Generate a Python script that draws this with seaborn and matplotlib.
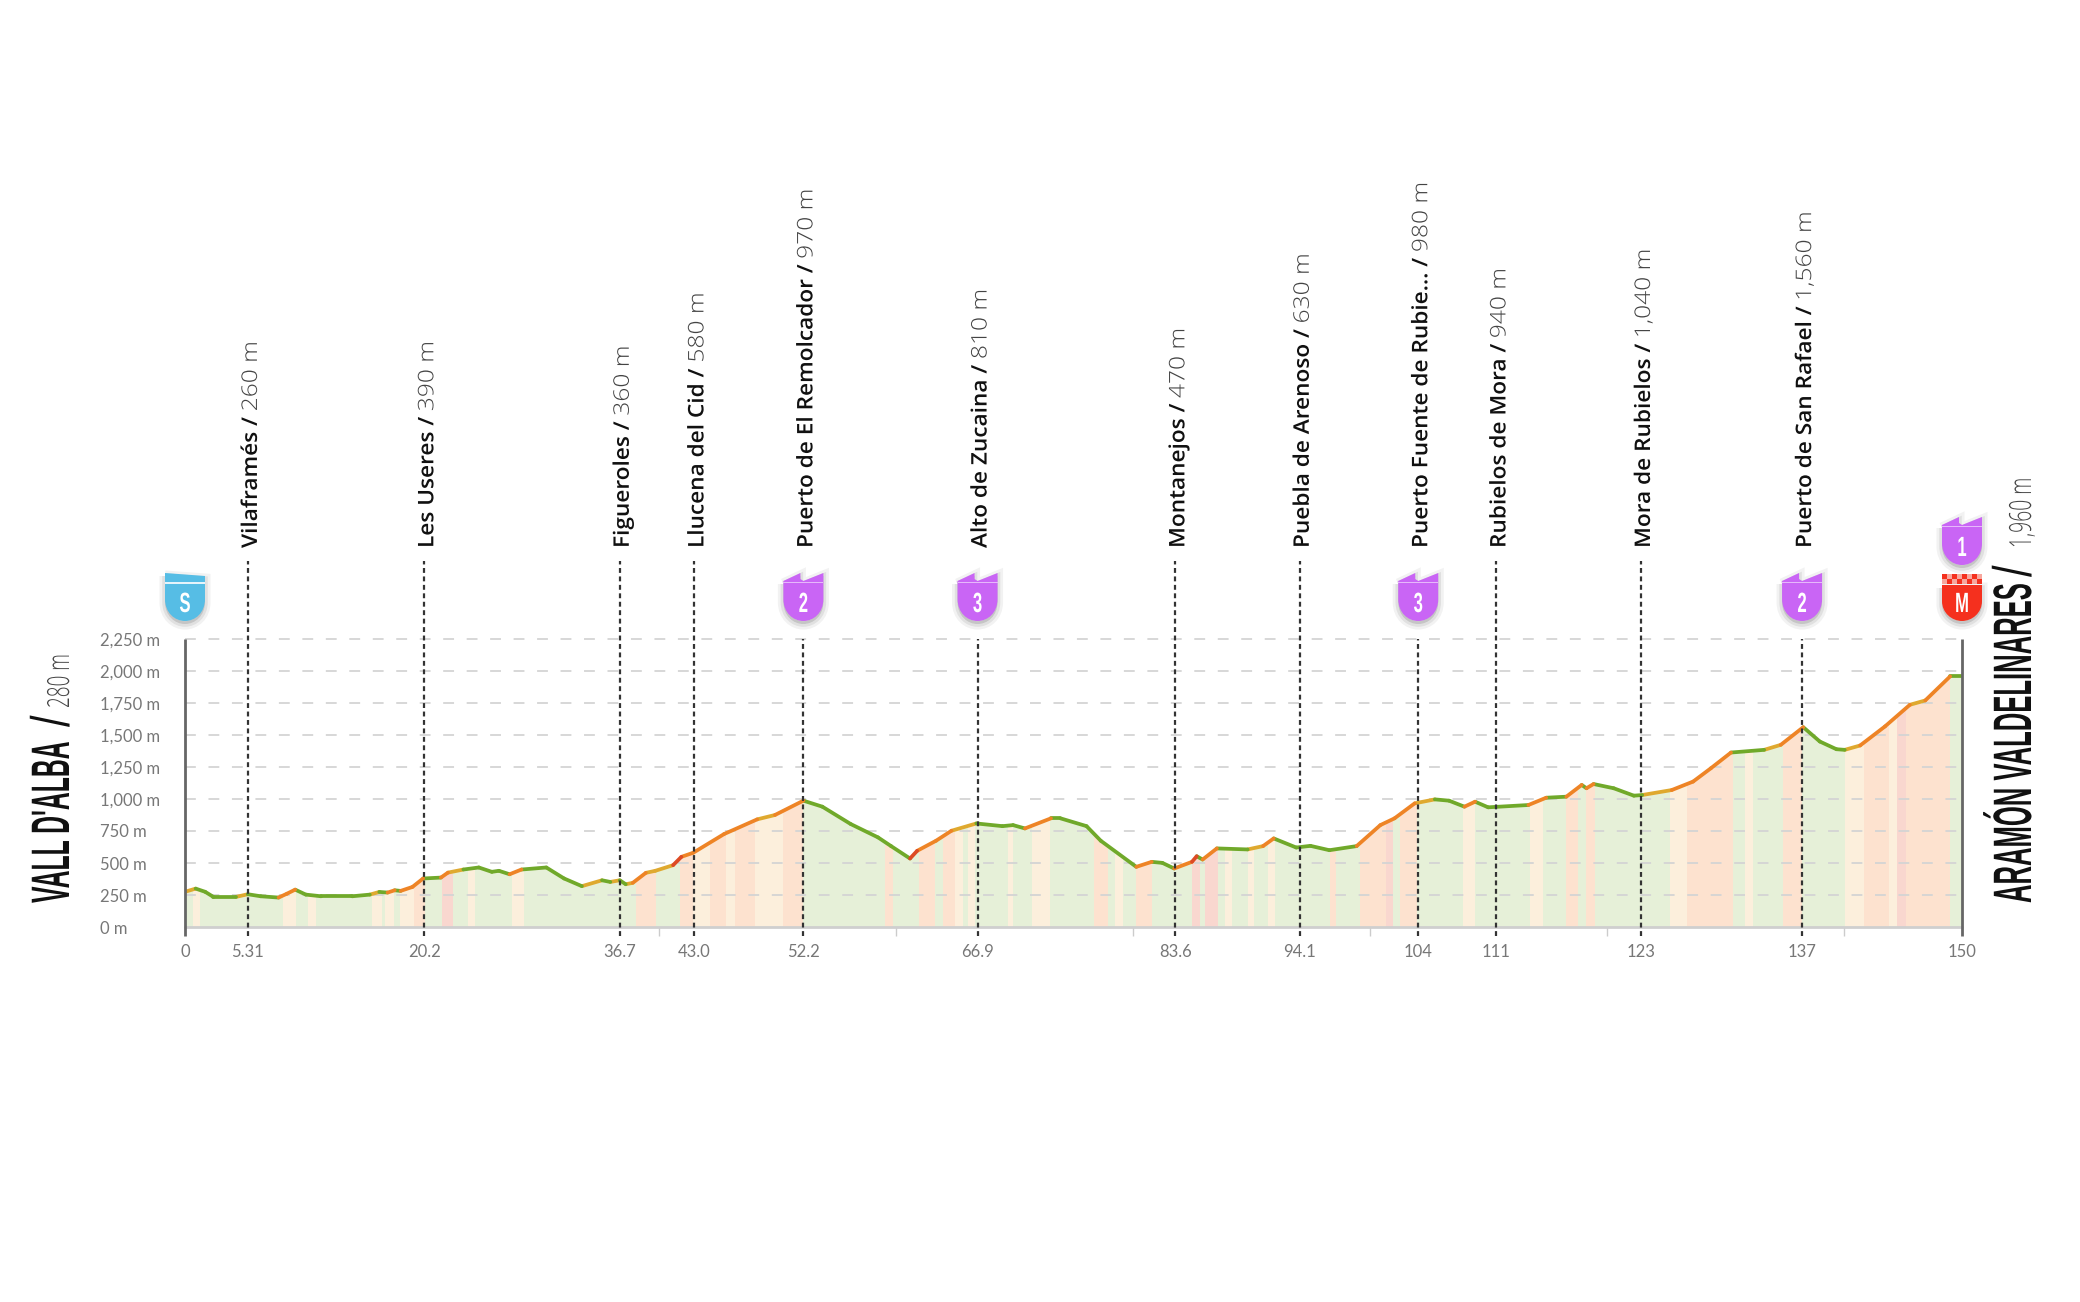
import seaborn as sns
import pandas as pd
import matplotlib
matplotlib.use("Agg")
import matplotlib.pyplot as plt
import matplotlib.patheffects as pe
from matplotlib.patches import PathPatch, Rectangle
from matplotlib.path import Path
from matplotlib.transforms import Affine2D, IdentityTransform

# elevation profile
profile_km = [0, 0.9, 1.7, 2.4, 4.3, 5.3, 6.4, 7.9, 8.6, 9.3, 10.2, 11.5, 14.1, 15.6, 16.4, 17.1, 17.7, 18.2, 19.2, 20.1,
              21.6, 22.2, 23.5, 24.8, 25.9, 26.5, 27.4, 28.4, 30.5, 32, 33.5, 35.2, 35.9, 36.7, 37.2, 37.8, 38.9, 39.7, 41.2, 41.9,
              42.9, 45.5, 48.3, 49.8, 52.2, 53.8, 56.2, 58.5, 59.6, 61.2, 61.8, 63.4, 64.7, 66.8, 69, 69.9, 70.9, 73.1, 73.9, 76.1,
              77.3, 80.3, 81.6, 82.5, 83.5, 85, 85.4, 85.9, 87.1, 89.7, 91, 91.9, 93.8, 95, 96.6, 98.9, 100.9, 102.1, 103.8, 105.5,
              106.7, 108, 108.9, 110, 113.4, 114.9, 116.6, 117.9, 118.3, 118.9, 120.6, 122.3, 123, 125.5, 127.3, 128.8, 130.5, 133.3, 134.7, 136.6,
              138, 139.4, 140.1, 141.4, 143.5, 145.6, 146.9, 149, 150]
profile_m = [275, 300, 275, 235, 235, 256, 240, 230, 260, 292, 253, 240, 240, 253, 274, 269, 287, 282, 313, 379,
             386, 425, 449, 465, 431, 439, 412, 449, 465, 379, 319, 365, 352, 365, 334, 345, 423, 439, 483, 548,
             580, 726, 841, 875, 987, 940, 804, 700, 632, 535, 595, 674, 752, 809, 788, 796, 770, 849, 849, 788,
             674, 470, 509, 501, 457, 509, 553, 527, 614, 606, 632, 692, 621, 634, 600, 632, 796, 849, 966, 997,
             987, 940, 979, 935, 953, 1010, 1018, 1110, 1084, 1117, 1084, 1026, 1031, 1070, 1136, 1240, 1363, 1384, 1423, 1561,
             1449, 1389, 1384, 1418, 1567, 1736, 1770, 1958, 1958]

# coloured bands under the profile, the rest is green
band_start = [0.7, 8.3, 10.4, 15.8, 16.9, 18.15, 19.3, 21.7, 23.9, 27.6, 38.1, 41.8, 42.9, 44.3, 45.7, 46.4, 48.1, 50.5,
              59.1, 62, 64, 65, 66.1, 69.5, 71.5, 76.7, 78.5, 80.3, 85, 86.1, 87.8, 89.75, 91.45, 96.65, 99.2, 101.4, 102.6,
              107.9, 113.5, 116.6, 118.3, 125.35, 126.75, 128.4, 129.7, 131.7, 134.9, 140.1, 141.7, 143.8, 144.5, 145.3, 146.45]
band_end = [1.27, 9.4, 11.1, 16.6, 17.6, 19.3, 20.3, 22.65, 24.5, 28.6, 39.8, 42.9, 44.3, 45.7, 46.4, 48.1, 50.5, 52.2,
            59.8, 63.3, 65, 65.7, 66.7, 69.9, 73, 77.9, 79.2, 81.6, 85.7, 87.2, 88.35, 90.2, 92, 97.2, 101.4, 102, 104,
            108.9, 114.65, 117.6, 119, 126.75, 128.4, 129.7, 130.7, 132.4, 136.5, 141.7, 143.8, 144.5, 145.3, 146.45, 149]
band_kind = ["mild", "mild", "mild", "mild", "mild", "mild", "steep", "hard", "mild", "mild", "steep", "steep", "mild", "steep", "mild", "steep", "mild", "steep",
             "steep", "steep", "steep", "mild", "mild", "mild", "mild", "steep", "mild", "steep", "hard", "hard", "mild", "mild", "mild", "steep", "steep", "hard", "steep",
             "mild", "mild", "steep", "steep", "mild", "steep", "steep", "steep", "mild", "steep", "mild", "steep", "mild", "hard", "steep", "steep"]

mark_km = [5.31, 20.2, 36.7, 43.0, 52.2, 66.9, 83.6, 94.1, 104.1, 110.7, 122.9, 136.5]
mark_names = ["Vilaframés", "Les Useres", "Figueroles", "Llucena del Cid", "Puerto de El Remolcador", "Alto de Zucaina",
              "Montanejos", "Puebla de Arenoso", "Puerto Fuente de Rubie...", "Rubielos de Mora", "Mora de Rubielos",
              "Puerto de San Rafael"]
mark_heights = ["260 m", "390 m", "360 m", "580 m", "970 m", "810 m", "470 m", "630 m", "980 m", "940 m", "1,040 m", "1,560 m"]
tick_labels = ["5.31", "20.2", "36.7", "43.0", "52.2", "66.9", "83.6", "94.1", "104", "111", "123", "137"]
minor_km = [40, 60, 80, 100, 120, 140]
y_ticks = [0, 250, 500, 750, 1000, 1250, 1500, 1750, 2000, 2250]
y_labels = ["0 m", "250 m", "500 m", "750 m", "1,000 m", "1,250 m", "1,500 m", "1,750 m", "2,000 m", "2,250 m"]
climb_km = [52.2, 66.9, 104.1, 136.5]
climb_cat = ["2", "3", "3", "2"]

line_colors = {"flat": "#70a92a", "mild": "#dfa92f", "steep": "#ee8426", "hard": "#dd4b25"}
fill_colors = {"flat": "#e6f0d8", "mild": "#fcefdc", "steep": "#fde2cf", "hard": "#f9d7cf"}
PURPLE = "#c965f5"
W, H = 2080, 1302
HEAVY = ["Liberation Sans", "DejaVu Sans"]


class Tall(pe.AbstractPathEffect):
    # no condensed font is installed: keep the length of the text, scale the glyphs across it
    def __init__(self, sy):
        super().__init__()
        self.sy = sy

    def draw_path(self, renderer, gc, tpath, affine, rgbFace=None):
        renderer.draw_path(gc, tpath, Affine2D().scale(1, self.sy) + affine, rgbFace)


sns.set_style("white")
plt.rcParams["font.family"] = ["Lato", "DejaVu Sans"]

fig = plt.figure(figsize=(W / 100, H / 100), dpi=100)
ax = fig.add_axes([185 / W, 1 - 927 / H, (1962 - 185) / W, 288 / H])

# green under the whole profile, bands clipped to it
ax.fill_between(profile_km, 0, profile_m, color=fill_colors["flat"], lw=0, zorder=1)
under = Path(list(zip(profile_km + [150, 0], profile_m + [0, 0])))
bands = pd.DataFrame({"start": band_start, "end": band_end, "kind": band_kind})
for _, b in bands.iterrows():
    bar = ax.bar(b["start"], 2250, width=b["end"] - b["start"], align="edge", color=fill_colors[b["kind"]], lw=0, zorder=1.5)
    bar[0].set_clip_path(under, ax.transData)

# one row per end of a segment, line colour follows its grade
rows = []
for i in range(len(profile_km) - 1):
    grade = (profile_m[i + 1] - profile_m[i]) / (profile_km[i + 1] - profile_km[i]) / 10
    cls = "flat" if grade < 1.5 else "mild" if grade < 3 else "steep" if grade < 9 else "hard"
    rows.append((i, cls, profile_km[i], profile_m[i]))
    rows.append((i, cls, profile_km[i + 1], profile_m[i + 1]))
df = pd.DataFrame(rows, columns=["seg", "cls", "km", "m"])

sns.lineplot(data=df, x="km", y="m", hue="cls", units="seg", estimator=None, sort=False, palette=line_colors,
             legend=False, lw=2.7, solid_capstyle="round", zorder=4, ax=ax)

ax.set_xlim(0, 150)
ax.set_ylim(0, 2250)
ax.set_xlabel("")
ax.set_ylabel("")
sns.despine(ax=ax, left=True, bottom=True)

for y in y_ticks[1:]:
    ax.axhline(y, color="#d4d4d4", lw=1.3, dashes=(6, 7), zorder=2, clip_on=False)
ax.axhline(0, color="#cfcfcf", lw=2, zorder=3, clip_on=False)
ax.vlines([0, 150], -70, 2250, color="#666666", lw=2, zorder=5, clip_on=False)

# dotted lines up to the town names, climbs stop at the top of the grid
for km in mark_km:
    top = 2250 if km in climb_km else 2860
    ax.plot([km, km], [-70, top], color="#333333", lw=1.6, dashes=(2.2, 1.6), zorder=5, clip_on=False)

ax.set_xticks([0] + mark_km + [150], ["0"] + tick_labels + ["150"])
ax.set_xticks(minor_km, minor=True)
ax.tick_params(axis="x", which="major", length=0, pad=12, labelsize=12, labelcolor="#777777")
ax.tick_params(axis="x", which="minor", length=6.5, width=1, color="#cccccc", bottom=True)
ax.set_yticks(y_ticks, y_labels)
ax.tick_params(axis="y", length=0, pad=61, labelsize=12, labelcolor="#777777")
for lab in ax.get_yticklabels():
    lab.set_ha("left")

# town names, height sits right after the name
xtr = ax.get_xaxis_transform()
for km, name, height in zip(mark_km, mark_names, mark_heights):
    t = ax.annotate(name + " /", xy=(km, (927 - 548) / 288), xycoords=xtr, xytext=(6.5, 0), textcoords="offset points",
                    rotation=90, rotation_mode="anchor", ha="left", va="baseline", fontsize=16.3,
                    family="Open Sans", weight="semibold", color="#111111")
    t.set_path_effects([Tall(0.95)])
    v = ax.annotate(height, xy=(km, 1), xycoords=(xtr, t), xytext=(6.5, 4), textcoords="offset points",
                    rotation=90, rotation_mode="anchor", ha="left", va="baseline", fontsize=17.7,
                    family="Open Sans", weight="light", color="#444444")
    v.set_path_effects([Tall(0.876)])


# start and finish names
def side_text(x, y, s, size, weight, color, sy, family=HEAVY):
    t = fig.text(x / W, 1 - y / H, s, rotation=90, rotation_mode="anchor", ha="left", va="baseline",
                 fontsize=size, family=family, weight=weight, color=color)
    t.set_path_effects([Tall(sy)])


side_text(69, 903, "VALL D'ALBA", 17.8, "bold", "#111111", 2.19)
side_text(69, 727, "/", 30, "normal", "#111111", 1.3)
side_text(69, 708, "280 m", 13.6, "light", "#444444", 1.61, "Open Sans")
side_text(2031, 903, "ARAMÓN VALDELINARES", 18.45, "bold", "#111111", 2.11)
side_text(2031, 577, "/", 30, "normal", "#111111", 1.3)
side_text(2031, 548, "1,960 m", 13.9, "light", "#444444", 1.58, "Open Sans")

# shields, drawn in pixels with y pointing down from the top of the picture
body = [(0, 8), (17, 0), (17, 6), (20, 8), (40, 0), (40, 26), (40, 40), (30, 48), (20, 48), (10, 48), (0, 40), (0, 26), (0, 8)]
codes = [Path.MOVETO] + [Path.LINETO] * 5 + [Path.CURVE4] * 6 + [Path.LINETO]
start_body = [(0, 0), (40, 3), (40, 26), (40, 40), (30, 48), (20, 48), (10, 48), (0, 40), (0, 26), (0, 0)]
start_codes = [Path.MOVETO, Path.LINETO, Path.LINETO] + [Path.CURVE4] * 6 + [Path.LINETO]
finish_body = [(0, 12), (40, 12), (40, 28), (40, 40), (30, 48), (20, 48), (10, 48), (0, 40), (0, 28), (0, 12)]
finish_codes = [Path.MOVETO, Path.LINETO, Path.LINETO] + [Path.CURVE4] * 6 + [Path.LINETO]


def shield(km, top, verts, kinds, color, letter):
    left = ax.transData.transform((km, 0))[0] - 20
    path = Path([(x, -y) for x, y in verts], kinds)
    # soft shadow
    for grow, alpha in [(4, 0.05), (2, 0.07)]:
        fig.add_artist(PathPatch(path, fc="#000000", ec="#000000", lw=grow * 2, alpha=alpha,
                                 transform=Affine2D().translate(left, H - top - 3)))
    fig.add_artist(PathPatch(path, fc=color, ec="none", transform=Affine2D().translate(left, H - top)))
    t = fig.text((left + 20) / W, 1 - (top + 39) / H, letter, ha="center", va="baseline", color="white",
                 fontsize=12, family=HEAVY, weight="bold")
    t.set_path_effects([Tall(1.67)])
    return left


shield(0, 573, start_body, start_codes, "#56bde5", "S")
x0 = ax.transData.transform((0, 0))[0] - 20
fig.add_artist(Rectangle((x0, H - 573 - 11), 40, 2.5, fc="#ffffff", ec="none", alpha=0.85, transform=IdentityTransform()))
for km, cat in zip(climb_km, climb_cat):
    left = shield(km, 573, body, codes, PURPLE, cat)
    fig.add_artist(Rectangle((left, H - 573 - 10), 40, 1.5, fc="#e6b8fb", ec="none", transform=IdentityTransform()))
left = shield(150, 517, body, codes, PURPLE, "1")
fig.add_artist(Rectangle((left, H - 517 - 10), 40, 1.5, fc="#e6b8fb", ec="none", transform=IdentityTransform()))
left = shield(150, 573, finish_body, finish_codes, "#f5301e", "M")
for row in range(2):
    for col in range(8):
        c = "#f5301e" if (row + col) % 2 == 0 else "#f7a79e"
        fig.add_artist(Rectangle((left + col * 5, H - 573 - (row + 1) * 5 - 1), 5, 5, fc=c, ec="none",
                                 transform=IdentityTransform()))

fig.savefig("out.png", dpi=100, facecolor="white")
